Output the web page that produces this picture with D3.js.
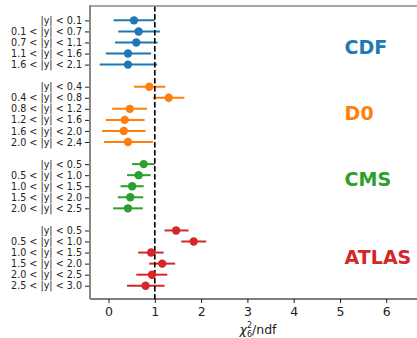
<!DOCTYPE html>
<html>
<head>
<meta charset="utf-8">
<script src="https://cdn.jsdelivr.net/npm/d3@7/dist/d3.min.js"></script>
<style>
  html, body { margin: 0; padding: 0; background: #fff; }
  svg { display: block; font-family: "DejaVu Sans", sans-serif; }
</style>
</head>
<body>
<svg id="chart" width="417" height="338"></svg>
<script>
// ---- data ----
const experiments = ["CDF", "D0", "CMS", "ATLAS"];
const colors = ["#1f77b4", "#ff7f0e", "#2ca02c", "#d62728"];

const cdfLabels = ["|y| < 0.1", "0.1 < |y| < 0.7", "0.7 < |y| < 1.1", "1.1 < |y| < 1.6", "1.6 < |y| < 2.1"];
const cdfValues = [0.55, 0.65, 0.60, 0.42, 0.42];
const cdfLow    = [0.11, 0.21, 0.14, -0.06, -0.19];
const cdfHigh   = [1.00, 1.11, 1.06, 0.92, 1.05];

const d0Labels = ["|y| < 0.4", "0.4 < |y| < 0.8", "0.8 < |y| < 1.2", "1.2 < |y| < 1.6", "1.6 < |y| < 2.0", "2.0 < |y| < 2.4"];
const d0Values = [0.88, 1.30, 0.46, 0.35, 0.33, 0.42];
const d0Low    = [0.55, 0.96, 0.08, -0.06, -0.14, -0.10];
const d0High   = [1.23, 1.64, 0.83, 0.78, 0.80, 0.96];

const cmsLabels = ["|y| < 0.5", "0.5 < |y| < 1.0", "1.0 < |y| < 1.5", "1.5 < |y| < 2.0", "2.0 < |y| < 2.5"];
const cmsValues = [0.76, 0.65, 0.51, 0.47, 0.42];
const cmsLow    = [0.51, 0.40, 0.26, 0.20, 0.10];
const cmsHigh   = [1.00, 0.91, 0.76, 0.75, 0.74];

const atlasLabels = ["|y| < 0.5", "0.5 < |y| < 1.0", "1.0 < |y| < 1.5", "1.5 < |y| < 2.0", "2.0 < |y| < 2.5", "2.5 < |y| < 3.0"];
const atlasValues = [1.46, 1.84, 0.92, 1.16, 0.94, 0.80];
const atlasLow    = [1.21, 1.57, 0.64, 0.88, 0.60, 0.40];
const atlasHigh   = [1.73, 2.11, 1.19, 1.44, 1.27, 1.21];

// row index where each group starts (one empty row between groups)
const groupStart = [0, 6, 13, 19];
// vertical position (in row units) of the group labels
const groupLabelRow = [2.42, 8.4, 14.35, 21.45];
const groupLabelX = 5.1;

const xTicks = [0, 1, 2, 3, 4, 5, 6];
const refLine = 1;

const groups = [
  {labels: cdfLabels, values: cdfValues, low: cdfLow, high: cdfHigh},
  {labels: d0Labels, values: d0Values, low: d0Low, high: d0High},
  {labels: cmsLabels, values: cmsValues, low: cmsLow, high: cmsHigh},
  {labels: atlasLabels, values: atlasValues, low: atlasLow, high: atlasHigh}
];

const rows = [];
groups.forEach((g, gi) => {
  g.labels.forEach((lab, i) => {
    rows.push({row: groupStart[gi] + i, label: lab, v: g.values[i], lo: g.low[i], hi: g.high[i], color: colors[gi]});
  });
});

// ---- layout ----
const svg = d3.select("#chart");
const mLeft = 90, mRight = 421, mTop = 6, mBottom = 299;

const x = d3.scaleLinear().domain([-0.4, 6.75]).range([mLeft, mRight]);
const y = d3.scaleLinear().domain([-1.3, 25.2]).range([mTop, mBottom]);

// error bars
svg.append("g").selectAll("line.err").data(rows).join("line")
  .attr("x1", d => x(d.lo)).attr("x2", d => x(d.hi))
  .attr("y1", d => y(d.row)).attr("y2", d => y(d.row))
  .attr("stroke", d => d.color).attr("stroke-width", 2);

// reference dashed line
svg.append("line")
  .attr("x1", x(refLine)).attr("x2", x(refLine))
  .attr("y1", mTop).attr("y2", mBottom)
  .attr("stroke", "#000").attr("stroke-width", 1.6)
  .attr("stroke-dasharray", "5.5,2.5");

// points
svg.append("g").selectAll("circle").data(rows).join("circle")
  .attr("cx", d => x(d.v)).attr("cy", d => y(d.row)).attr("r", 4.2)
  .attr("fill", d => d.color);

// group labels
svg.append("g").selectAll("text").data(experiments).join("text")
  .attr("x", x(groupLabelX))
  .attr("y", (d, i) => y(groupLabelRow[i]))
  .attr("dy", "0.36em")
  .attr("fill", (d, i) => colors[i])
  .attr("font-weight", "bold")
  .attr("font-size", 19)
  .text(d => d);

// y axis
const yAxis = d3.axisLeft(y)
  .tickValues(rows.map(d => d.row))
  .tickFormat(v => rows.find(r => r.row === v).label)
  .tickSize(5).tickPadding(3);
const gy = svg.append("g").attr("transform", `translate(${mLeft},0)`).call(yAxis);
gy.select(".domain").remove();
gy.selectAll("text").attr("font-size", 9.6).attr("font-family", "DejaVu Sans").attr("fill", "#222");
gy.selectAll(".tick line").attr("stroke", "#000").attr("stroke-width", 0.9);

// x axis
const xAxis = d3.axisBottom(x).tickValues(xTicks).tickFormat(d3.format("d")).tickSize(4).tickPadding(4);
const gx = svg.append("g").attr("transform", `translate(0,${mBottom})`).call(xAxis);
gx.select(".domain").remove();
gx.selectAll("text").attr("font-size", 12.5).attr("font-family", "DejaVu Sans").attr("fill", "#222");
gx.selectAll(".tick line").attr("stroke", "#000").attr("stroke-width", 0.9);

// spines
svg.append("line").attr("x1", mLeft).attr("x2", mRight).attr("y1", mBottom).attr("y2", mBottom)
  .attr("stroke", "#000").attr("stroke-width", 1.1);
svg.append("line").attr("x1", mLeft).attr("x2", mRight).attr("y1", mTop).attr("y2", mTop)
  .attr("stroke", "#888").attr("stroke-width", 1.5);
svg.append("line").attr("x1", mLeft).attr("x2", mLeft).attr("y1", mTop - 0.75).attr("y2", mBottom)
  .attr("stroke", "#888").attr("stroke-width", 2);

// x label: chi^2_6 / ndf
const xl = svg.append("text")
  .attr("x", 258).attr("y", 334)
  .attr("text-anchor", "middle").attr("font-size", 12.5).attr("fill", "#222");
xl.append("tspan").attr("font-style", "italic").text("χ");
xl.append("tspan").attr("font-size", 8).attr("dy", 3).text("6");
xl.append("tspan").attr("font-size", 8).attr("dx", -5.1).attr("dy", -9.2).text("2");
xl.append("tspan").attr("dy", 6.2).text("/ndf");
</script>
</body>
</html>
